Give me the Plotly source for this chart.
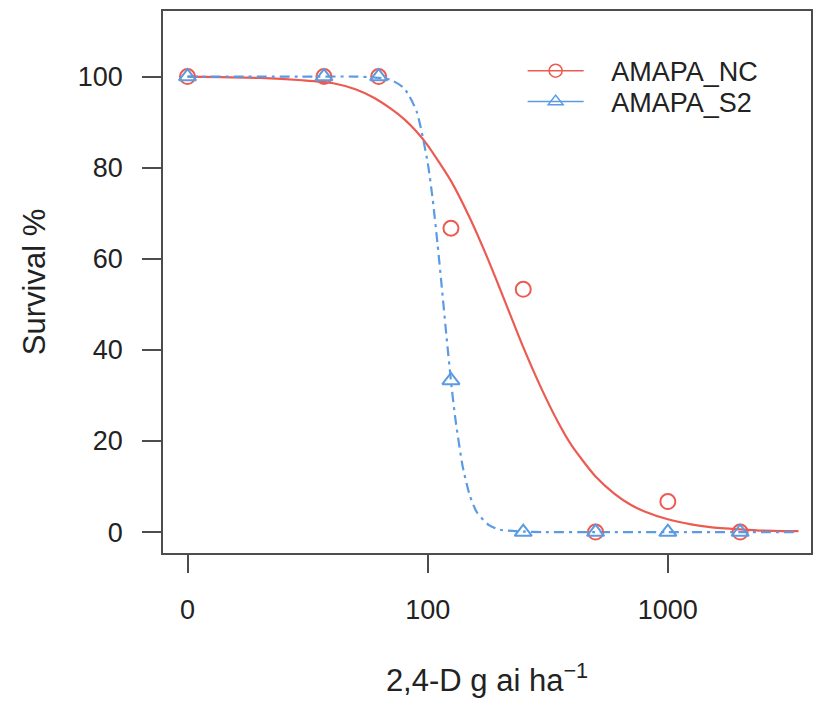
import plotly.graph_objects as go

# ---------------- data ----------------
ZERO_DOSE_POSITION = 10  # where dose 0 is drawn on the log axis (labelled "0")

doses = [0, 37, 62.5, 125, 250, 500, 1000, 2000]
nc_survival = [100, 100, 100, 66.7, 53.3, 0, 6.7, 0]
s2_survival = [100, 100, 100, 33.3, 0, 0, 0, 0]

# fitted dose-response curves
nc_curve_dose = [10, 20, 30, 40, 50, 60, 70, 80, 90, 100, 125, 150, 175, 200, 250,
                 300, 350, 400, 500, 600, 700, 800, 1000, 1250, 1500, 2000, 2500,
                 3000, 3500]
nc_curve_surv = [100, 99.7, 99.2, 98.6, 97.2, 95.3, 93.0, 90.6, 87.9, 84.9, 77.1,
                 68.9, 60.9, 53.4, 40.6, 31.1, 24.0, 18.8, 12.2, 8.4, 6.0, 4.5,
                 2.8, 1.7, 1.1, 0.6, 0.3, 0.2, 0.2]

s2_curve_dose = [10, 30, 50, 60, 70, 80, 90, 100, 105, 110, 115, 120, 125, 130,
                 140, 150, 160, 180, 200, 250, 300, 500, 1000, 2000, 3500]
s2_curve_surv = [100, 100, 100, 99.8, 99.3, 97.4, 92.3, 81.1, 72.9, 63.1, 52.7,
                 42.5, 33.2, 25.4, 14.3, 7.9, 4.4, 1.5, 0.5, 0.1, 0, 0, 0, 0, 0]

series_names = ["AMAPA_NC", "AMAPA_S2"]
x_tick_values = [10, 100, 1000]
x_tick_labels = ["0", "100", "1000"]
y_tick_values = [0, 20, 40, 60, 80, 100]

# ---------------- styling ----------------
RED = "#EC5B52"
BLUE = "#5A9BE3"
FONT = "Liberation Sans, Arial, sans-serif"
TXT = "#222222"
AX = "#4d4d4d"
FS_TICK = 27
FS_TITLE = 31
FS_LEG = 27
PAD = "\u00a0\u00a0\u00a0"


def plot_x(ds):
    return [d if d > 0 else ZERO_DOSE_POSITION for d in ds]


fig = go.Figure()

# curves
fig.add_trace(go.Scatter(x=nc_curve_dose, y=nc_curve_surv, mode="lines",
                         line=dict(color=RED, width=2.2, shape="spline", smoothing=0.6),
                         showlegend=False, hoverinfo="skip"))
fig.add_trace(go.Scatter(x=s2_curve_dose, y=s2_curve_surv, mode="lines",
                         line=dict(color=BLUE, width=2.2, dash="10px,5px,3px,5px",
                                   shape="spline", smoothing=0.6),
                         showlegend=False, hoverinfo="skip"))

# observed points
fig.add_trace(go.Scatter(x=plot_x(doses), y=nc_survival, mode="markers",
                         marker=dict(symbol="circle-open", size=15, color=RED,
                                     line=dict(width=2, color=RED)),
                         showlegend=False, name=series_names[0]))
fig.add_trace(go.Scatter(x=plot_x(doses), y=s2_survival, mode="markers",
                         marker=dict(symbol="triangle-up-open", size=15, color=BLUE,
                                     line=dict(width=2, color=BLUE)),
                         showlegend=False, name=series_names[1]))

# legend entries (line + symbol), one legend per row for exact placement
fig.add_trace(go.Scatter(x=[None], y=[None], mode="lines+markers",
                         name=PAD + series_names[0], legend="legend",
                         line=dict(color=RED, width=1.5),
                         marker=dict(symbol="circle-open", size=13, color=RED,
                                     line=dict(width=1.5, color=RED))))
fig.add_trace(go.Scatter(x=[None], y=[None], mode="lines+markers",
                         name=PAD + series_names[1], legend="legend2",
                         line=dict(color=BLUE, width=1.5),
                         marker=dict(symbol="triangle-up-open", size=13, color=BLUE,
                                     line=dict(width=1.5, color=BLUE))))

legend_common = dict(xanchor="left", yanchor="middle", bgcolor="rgba(0,0,0,0)",
                     borderwidth=0, itemwidth=56,
                     font=dict(family=FONT, size=FS_LEG, color=TXT))

fig.update_layout(
    width=814, height=708,
    margin=dict(l=163, r=3, t=11, b=155),
    paper_bgcolor="white", plot_bgcolor="white",
    font=dict(family=FONT, size=FS_TICK, color=TXT),
    showlegend=True,
    legend=dict(x=0.555, y=0.889, **legend_common),
    legend2=dict(x=0.555, y=0.832, **legend_common),
    xaxis=dict(type="log", range=[0.898, 3.596], autorange=False,
               tickmode="array", tickvals=x_tick_values, ticktext=x_tick_labels,
               ticks="outside", ticklen=18, tickwidth=1.5, tickcolor=AX,
               ticklabelstandoff=14,
               showline=True, linecolor=AX, linewidth=1.5, mirror=True,
               showgrid=False, zeroline=False,
               tickfont=dict(family=FONT, size=FS_TICK, color=TXT),
               title=dict(text="2,4-D g ai ha<sup>−1</sup>", standoff=45,
                          font=dict(family=FONT, size=FS_TITLE, color=TXT)),
               automargin=False),
    yaxis=dict(range=[-4.6, 114.4], autorange=False,
               tickmode="array", tickvals=y_tick_values,
               ticks="outside", ticklen=19, tickwidth=1.5, tickcolor=AX,
               ticklabelstandoff=14,
               showline=True, linecolor=AX, linewidth=1.5, mirror=True,
               showgrid=False, zeroline=False,
               tickfont=dict(family=FONT, size=FS_TICK, color=TXT),
               title=dict(text="Survival %", standoff=23,
                          font=dict(family=FONT, size=FS_TITLE, color=TXT)),
               automargin=False),
)

fig.write_html(
    "out.html",
    config={"displayModeBar": False},
    post_script="document.body.style.margin='0';document.body.style.overflow='hidden';",
)
